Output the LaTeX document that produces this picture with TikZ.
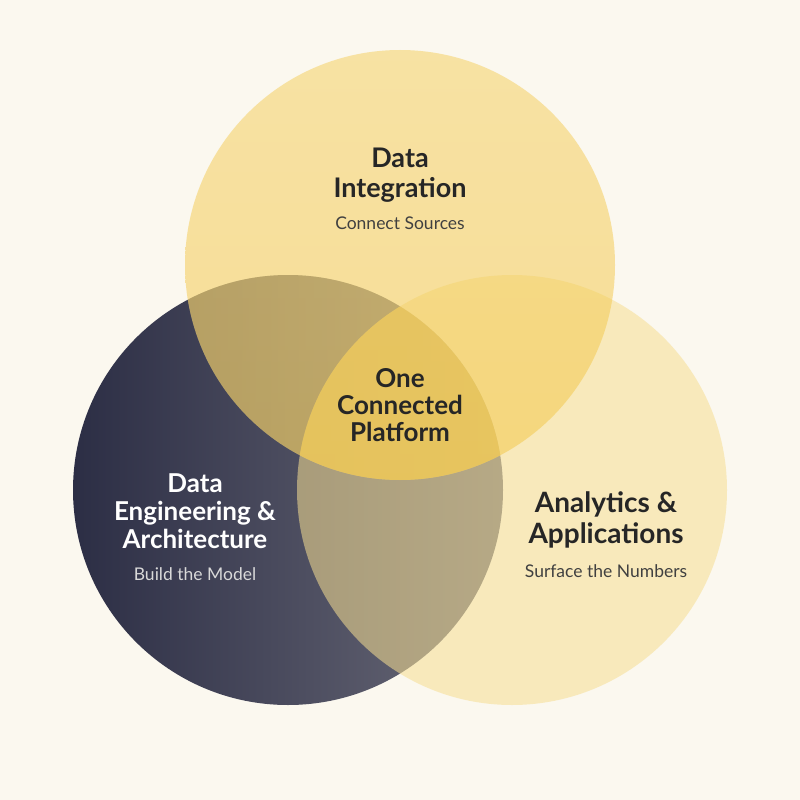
\documentclass[tikz,border=0pt]{standalone}
\usepackage{fontspec}
\setmainfont{Lato}
\begin{document}
\begin{tikzpicture}[x=1pt,y=-1pt,
  title/.style={font=\bfseries\fontsize{26}{27}\selectfont, text=black!85, align=center},
  sub/.style={font=\fontsize{17.5}{18}\selectfont, text=black!75, align=center}]
\definecolor{bg}{HTML}{FBF8EF}
\definecolor{navy}{HTML}{2C2E45}
\definecolor{navyl}{HTML}{6A6A78}
\definecolor{gold}{HTML}{F3C84A}
\definecolor{pale}{HTML}{F6DE92}
\fill[bg] (0,0) rectangle (800,800);
\useasboundingbox (0,0) rectangle (800,800);
\shade[left color=navy, right color=navyl, shading angle=90] (288,490) circle (215);
\path (288,490) coordinate (L);
\fill[pale, opacity=0.55] (512,490) circle (215);
\path (512,490) coordinate (R);
\begin{scope}
\clip (400,265) circle (215);
\fill[bg, opacity=0.25] (288,490) circle (215);
\end{scope}
\shade[top color=gold!85, bottom color=gold, opacity=0.55] (400,265) circle (215);
\path (400,265) coordinate (T);
\begin{scope}
\clip (400,265) circle (215);
\clip (288,490) circle (215);
\fill[gold, opacity=0.45] (512,490) circle (215);
\end{scope}
\node[title, font=\bfseries\fontsize{27}{30}\selectfont] (t1) at (400,175) {Data\\Integration};
\node[sub] (s1) at (400,223) {Connect Sources};
\node[title, font=\bfseries\fontsize{26}{27}\selectfont] (c) at (400,405) {One\\Connected\\Platform};
\node[title, text=white, font=\bfseries\fontsize{26}{28}\selectfont] (t2) at (195,511) {Data\\Engineering \&\\Architecture};
\node[sub, text=white!85!black] (s2) at (195,574) {Build the Model};
\node[title, font=\bfseries\fontsize{28}{31}\selectfont] (t3) at (606,520) {Analytics \&\\Applications};
\node[sub] (s3) at (606,571) {Surface the Numbers};
\end{tikzpicture}
\end{document}
